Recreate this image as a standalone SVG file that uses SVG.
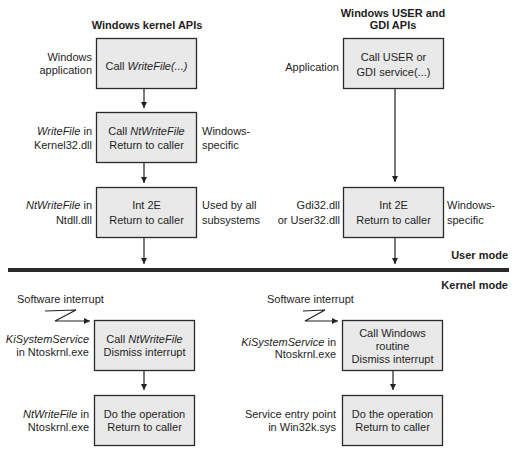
<svg xmlns="http://www.w3.org/2000/svg" width="518" height="457" viewBox="0 0 518 457">
<style>
.box{fill:#e9e9e9;stroke:#2a2a2a;stroke-width:1.3}
text{font-family:"Liberation Sans",Arial,sans-serif;font-size:11px;fill:#1e1e1e}
.t{font-weight:bold}
.c{text-anchor:middle}
.r{text-anchor:end}
.i{font-style:italic}
.ln{stroke:#222;stroke-width:1.2;fill:none}
</style>
<defs>
<marker id="ah" markerUnits="userSpaceOnUse" markerWidth="7" markerHeight="7" refX="6" refY="3" orient="auto">
<path d="M0,0 L6,3 L0,6 z" fill="#222"/>
</marker>
</defs>
<rect width="518" height="457" fill="#fff"/>

<text class="t c" x="147" y="29">Windows kernel APIs</text>
<text class="t c" x="393" y="17">Windows USER and</text>
<text class="t c" x="393" y="29">GDI APIs</text>

<g id="connectors">
<line class="ln" x1="144" y1="88" x2="144" y2="108" marker-end="url(#ah)"/>
<line class="ln" x1="144" y1="162" x2="144" y2="183" marker-end="url(#ah)"/>
<line class="ln" x1="144" y1="237" x2="144" y2="264" marker-end="url(#ah)"/>
<line class="ln" x1="395" y1="88" x2="395" y2="182" marker-end="url(#ah)"/>
<line class="ln" x1="395" y1="237" x2="395" y2="264" marker-end="url(#ah)"/>
<polyline class="ln" points="45,311 76,310 55,321 90,321" marker-end="url(#ah)"/>
<polyline class="ln" points="303,311 325,310 305,321 338,321" marker-end="url(#ah)"/>
<line class="ln" x1="144" y1="370" x2="144" y2="390" marker-end="url(#ah)"/>
<line class="ln" x1="393" y1="370" x2="393" y2="390" marker-end="url(#ah)"/>
</g>

<g id="n1">
<rect class="box" x="96.5" y="38.5" width="100" height="50"/>
<text class="c" x="146.5" y="70">Call <tspan class="i">WriteFile</tspan><tspan class="i">(...)</tspan></text>
<text class="r" x="92" y="61">Windows</text>
<text class="r" x="92" y="74">application</text>
</g>
<g id="n2">
<rect class="box" x="96.5" y="112.5" width="100" height="50"/>
<text class="c" x="146.5" y="135">Call <tspan class="i">NtWriteFile</tspan></text>
<text class="c" x="146.5" y="149">Return to caller</text>
<text class="r" x="92" y="135"><tspan class="i">WriteFile</tspan> in</text>
<text class="r" x="92" y="149">Kernel32.dll</text>
<text x="202" y="135">Windows-</text>
<text x="202" y="149">specific</text>
</g>
<g id="n3">
<rect class="box" x="96.5" y="187.5" width="100" height="50"/>
<text class="c" x="146.5" y="209">Int 2E</text>
<text class="c" x="146.5" y="224">Return to caller</text>
<text class="r" x="92" y="209"><tspan class="i">NtWriteFile</tspan> in</text>
<text class="r" x="92" y="224">Ntdll.dll</text>
<text x="202" y="209">Used by all</text>
<text x="202" y="224">subsystems</text>
</g>
<g id="n4">
<rect class="box" x="343.5" y="38.5" width="100" height="50"/>
<text class="c" x="393.5" y="61">Call USER or</text>
<text class="c" x="393.5" y="76">GDI service(...)</text>
<text class="r" x="339" y="71">Application</text>
</g>
<g id="n5">
<rect class="box" x="343.5" y="187.5" width="100" height="50"/>
<text class="c" x="393.5" y="209">Int 2E</text>
<text class="c" x="393.5" y="224">Return to caller</text>
<text class="r" x="340" y="209">Gdi32.dll</text>
<text class="r" x="340" y="224">or User32.dll</text>
<text x="447" y="209">Windows-</text>
<text x="447" y="224">specific</text>
</g>

<g id="divider">
<rect x="8" y="268" width="501" height="4" fill="#2a2a2a"/>
<text class="t r" x="508" y="259">User mode</text>
<text class="t r" x="508" y="289">Kernel mode</text>
</g>

<g id="n6">
<text x="17" y="303">Software interrupt</text>
<rect class="box" x="94.5" y="320.5" width="100" height="50"/>
<text class="c" x="144.5" y="343">Call <tspan class="i">NtWriteFile</tspan></text>
<text class="c" x="144.5" y="356">Dismiss interrupt</text>
<text class="r" x="89" y="343" font-style="italic">KiSystemService</text>
<text class="r" x="89" y="356">in Ntoskrnl.exe</text>
</g>
<g id="n7">
<rect class="box" x="94.5" y="395.5" width="100" height="50"/>
<text class="c" x="144.5" y="418">Do the operation</text>
<text class="c" x="144.5" y="431">Return to caller</text>
<text class="r" x="89" y="418"><tspan class="i">NtWriteFile</tspan> in</text>
<text class="r" x="89" y="431">Ntoskrnl.exe</text>
</g>
<g id="n8">
<text x="267" y="303">Software interrupt</text>
<rect class="box" x="342.5" y="320.5" width="100" height="50"/>
<text class="c" x="392.5" y="337">Call Windows</text>
<text class="c" x="392.5" y="350">routine</text>
<text class="c" x="392.5" y="363">Dismiss interrupt</text>
<text class="r" x="336" y="346"><tspan class="i">KiSystemService</tspan> in</text>
<text class="r" x="336" y="358">Ntoskrnl.exe</text>
</g>
<g id="n9">
<rect class="box" x="342.5" y="395.5" width="100" height="50"/>
<text class="c" x="392.5" y="418">Do the operation</text>
<text class="c" x="392.5" y="431">Return to caller</text>
<text class="r" x="336" y="418">Service entry point</text>
<text class="r" x="336" y="431">in Win32k.sys</text>
</g>
</svg>
